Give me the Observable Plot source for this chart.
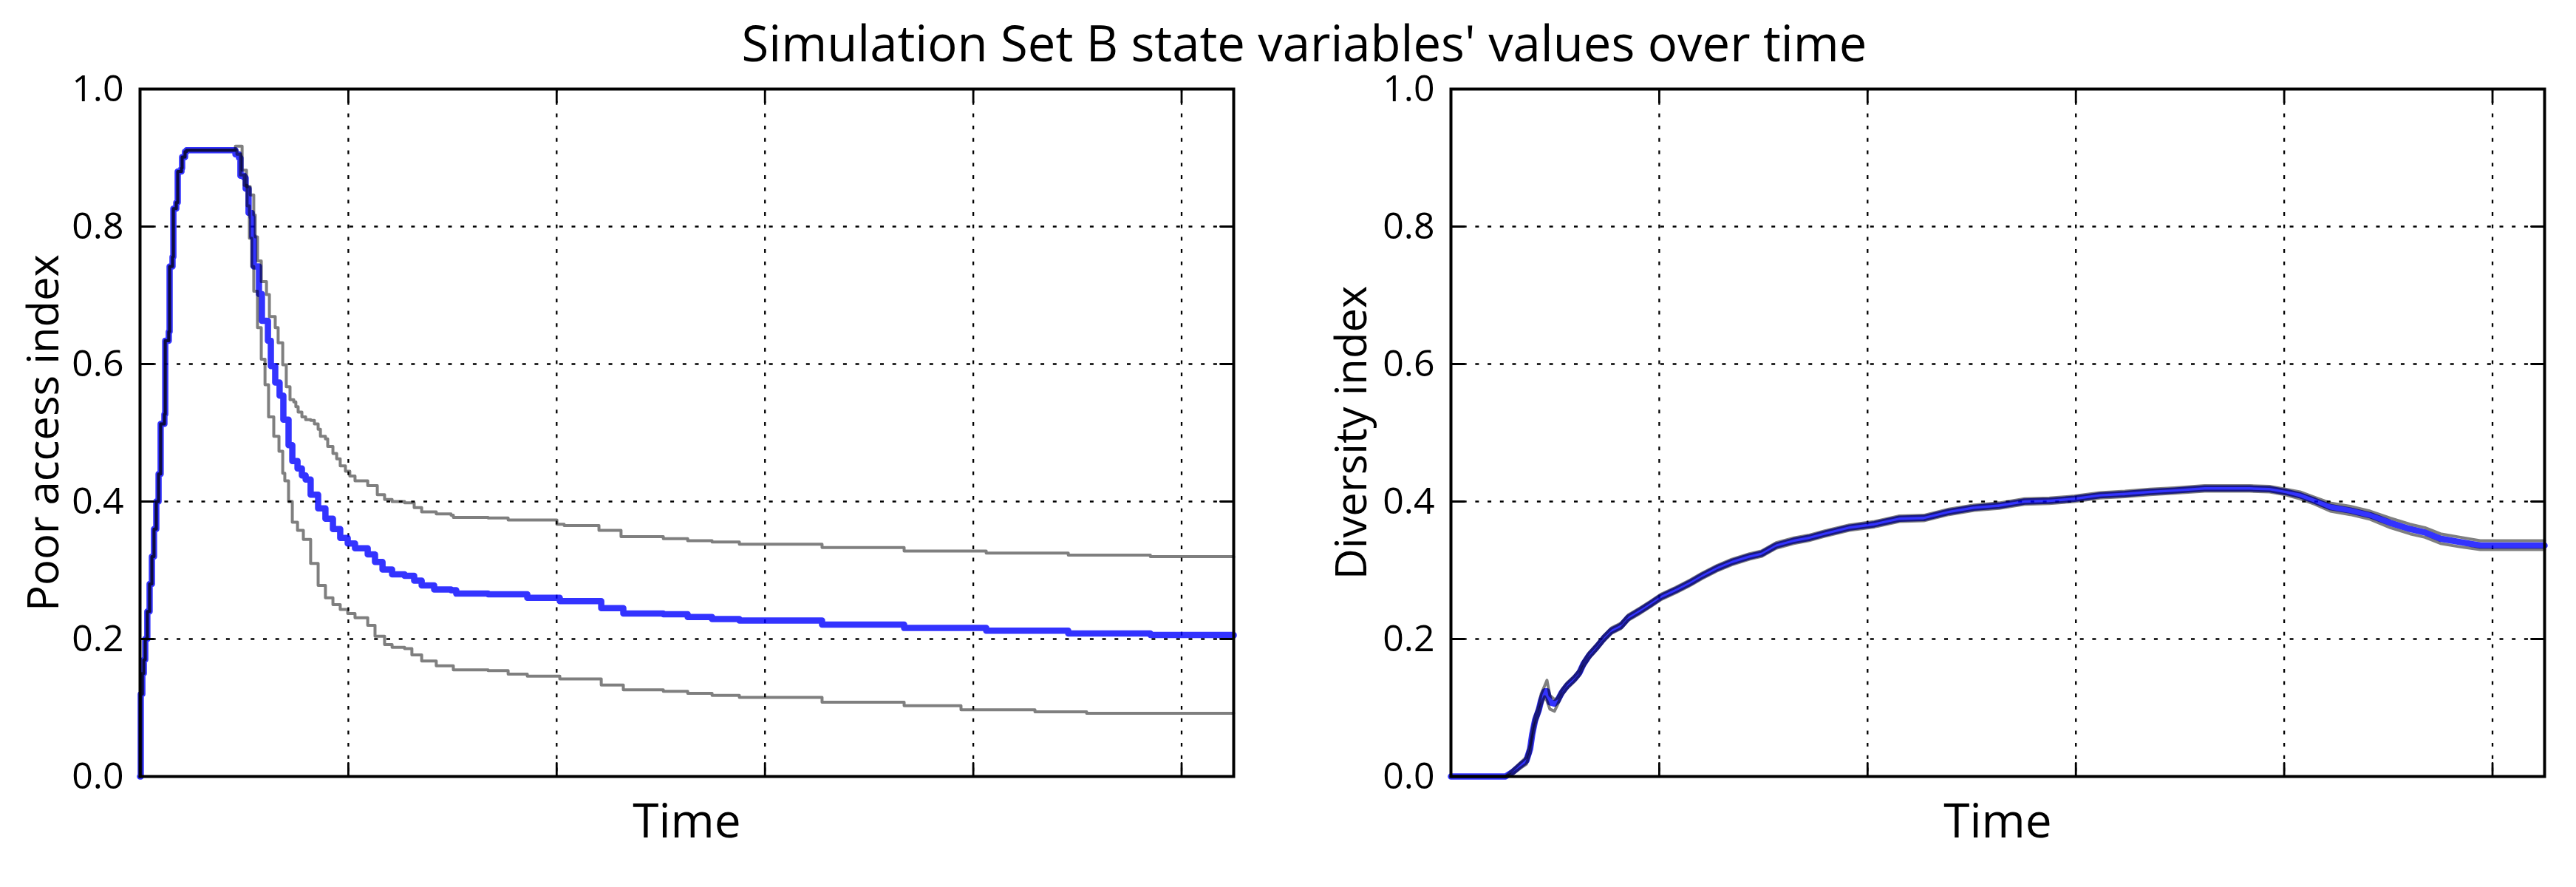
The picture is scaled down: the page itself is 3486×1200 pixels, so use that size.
<!DOCTYPE html>
<html>
<head>
<meta charset="utf-8">
<script src="https://cdn.jsdelivr.net/npm/d3@7"></script>
<script src="https://cdn.jsdelivr.net/npm/@observablehq/plot@0.6"></script>
<style>
  body { margin: 0; background: #fff; }
  #fig { width: 3486px; height: 1200px; font-family: "Open Sans", sans-serif; color: #000; }
  #title { height: 90px; box-sizing: border-box; padding-top: 29px; font-size: 67px; line-height: 56px;
           text-align: center; position: relative; left: 22px; white-space: nowrap; }
  #panels { display: flex; }
</style>
</head>
<body>
<div id="fig">
  <div id="title">Simulation Set B state variables' values over time</div>
  <div id="panels"></div>
</div>
<script>
// Axis ticks (time has no labelled ticks, only grid positions)
const xTicks = [1000, 2000, 3000, 4000, 5000];
const yTicks = [0, 0.2, 0.4, 0.6, 0.8, 1.0];
const yTickLabels = ["0.0", "0.2", "0.4", "0.6", "0.8", "1.0"];
const xLabel = "Time";
const leftLabel = "Poor access index";
const rightLabel = "Diversity index";

// Poor access index: the three series coincide during the initial rise
const poorRiseTime = [0,3.5,11,18,25,35,46,57,67,78,89,99,117,121,138,142,156,160,174,181,199,202,216,223,440];
const poorRise = [0,0.12,0.15,0.17,0.2,0.24,0.28,0.32,0.36,0.4,0.44,0.513,0.527,0.634,0.647,0.742,0.756,0.826,0.835,0.88,0.885,0.901,0.909,0.911,0.911];

// Poor access index: mean after the plateau
const poorMeanTime = [458,475,482,500,507,521,536,539,546,571,585,614,628,649,670,688,713,731,756,777,795,819,855,890,926,
  961,997,1032,1093,1128,1164,1210,1270,1316,1352,1412,1493,1518,1671,1859,2015,2214,2320,2512,2629,2746,2877,3274,3668,4062,4456,4850,5250];
const poorMean = [0.905,0.9,0.874,0.871,0.855,0.82,0.814,0.785,0.742,0.702,0.663,0.634,0.597,0.573,0.554,0.519,0.482,0.459,0.448,0.438,0.432,0.41,0.39,0.375,0.36,
  0.347,0.339,0.332,0.323,0.312,0.301,0.294,0.292,0.285,0.278,0.272,0.271,0.266,0.265,0.26,0.255,0.245,0.237,0.236,0.232,0.229,0.227,0.221,0.216,0.212,0.208,0.206,0.205];

// Poor access index: upper band
const poorUpperTime = [458,490,511,529,546,553,564,582,607,621,649,663,685,702,720,738,748,759,777,795,819,837,855,866,890,901,926,944,961,986,
  1007,1032,1093,1139,1174,1210,1270,1316,1352,1422,1493,1504,1671,1767,2001,2036,2203,2309,2512,2629,2746,2877,3274,3668,4062,4456,4850,5250];
const poorUpper = [0.917,0.882,0.858,0.846,0.817,0.785,0.75,0.72,0.701,0.669,0.653,0.631,0.599,0.567,0.548,0.545,0.538,0.53,0.523,0.519,0.518,0.513,0.505,0.495,0.491,0.48,0.47,0.462,0.452,0.444,
  0.437,0.43,0.423,0.41,0.403,0.4,0.398,0.391,0.385,0.382,0.38,0.377,0.376,0.373,0.367,0.365,0.358,0.349,0.346,0.343,0.341,0.338,0.333,0.328,0.325,0.322,0.32,0.319];

// Poor access index: lower band
const poorLowerTime = [465,482,500,514,525,536,546,564,582,600,617,642,667,685,695,713,731,756,784,819,855,890,926,961,997,1032,1093,1128,1174,1210,
  1270,1305,1352,1422,1504,1671,1767,1859,2015,2214,2320,2512,2629,2746,2877,3274,3668,3941,4296,4544,5250];
const poorLower = [0.905,0.875,0.86,0.83,0.783,0.742,0.706,0.653,0.607,0.57,0.523,0.495,0.473,0.441,0.43,0.40,0.37,0.358,0.345,0.31,0.278,0.26,0.25,0.243,0.237,0.231,0.22,0.204,0.192,0.188,
  0.186,0.177,0.168,0.161,0.155,0.154,0.149,0.146,0.142,0.133,0.126,0.124,0.121,0.118,0.115,0.108,0.103,0.097,0.094,0.092,0.092];

// Diversity index: sample times shared by mean and band
const divTime = [0,262,298,333,362,380,390,404,422,433,450,461,475,497,511,532,557,592,617,635,663,699,734,770,816,851,912,958,1007,1078,
  1149,1206,1277,1348,1433,1490,1561,1646,1717,1791,1912,2033,2153,2270,2391,2512,2632,2753,2873,2994,3115,3235,3356,3473,3618,3714,3835,3930,4005,4076,
  4147,4221,4317,4413,4509,4604,4676,4750,4846,4941,5037,5250];
const divMean = [0,0,0.007,0.016,0.023,0.04,0.061,0.082,0.097,0.111,0.124,0.124,0.108,0.106,0.11,0.122,0.132,0.142,0.151,0.163,
  0.176,0.188,0.201,0.212,0.219,0.231,0.242,0.251,0.261,0.271,0.282,0.292,0.303,0.312,0.32,0.324,0.336,0.343,0.347,0.353,
  0.362,0.367,0.375,0.376,0.385,0.391,0.394,0.4,0.401,0.404,0.409,0.411,0.414,0.416,0.419,0.419,0.419,0.418,0.414,0.409,
  0.401,0.392,0.387,0.38,0.369,0.36,0.355,0.346,0.341,0.336,0.336,0.336];
const divUpper = [0,0,0.01,0.02,0.028,0.046,0.067,0.088,0.103,0.12,0.132,0.14,0.118,0.112,0.114,0.126,0.136,0.146,0.155,0.167,
  0.18,0.192,0.205,0.216,0.223,0.235,0.246,0.255,0.265,0.275,0.286,0.296,0.307,0.316,0.324,0.328,0.34,0.347,0.351,0.357,
  0.366,0.371,0.379,0.38,0.389,0.395,0.398,0.404,0.405,0.408,0.413,0.415,0.418,0.42,0.423,0.423,0.423,0.422,0.418,0.414,
  0.406,0.398,0.393,0.386,0.376,0.367,0.362,0.353,0.348,0.343,0.343,0.343];
const divLower = [0,0,0.004,0.012,0.018,0.034,0.055,0.076,0.091,0.104,0.116,0.11,0.098,0.095,0.104,0.118,0.128,0.138,0.147,0.159,
  0.172,0.184,0.197,0.208,0.215,0.227,0.238,0.247,0.257,0.267,0.278,0.288,0.299,0.308,0.316,0.32,0.332,0.339,0.343,0.349,
  0.358,0.363,0.371,0.372,0.381,0.387,0.39,0.396,0.397,0.4,0.405,0.407,0.41,0.412,0.415,0.415,0.415,0.414,0.41,0.404,
  0.396,0.386,0.381,0.374,0.362,0.353,0.348,0.339,0.334,0.33,0.33,0.33];

const rows = (ts, vs) => ts.map((t, i) => ({t, v: vs[i]}));

// A straight inward tick, drawn by the vector mark
const tickShape = {draw(context, l) { context.moveTo(0, 0); context.lineTo(0, -l); }};
const tickStyle = {shape: tickShape, length: 18, anchor: "start", stroke: "black", strokeWidth: 2.8};
const gridStyle = {stroke: "black", strokeOpacity: 1, strokeWidth: 2.3, strokeDasharray: "5,11.7"};

function panel({width, marginLeft, marginRight, yLabel, yLabelDx, mean, upper, lower, curve}) {
  return Plot.plot({
    width, height: 1110,
    marginTop: 30, marginBottom: 150, marginLeft, marginRight,
    style: {fontFamily: "'Open Sans', sans-serif", fontSize: "50px", color: "black", background: "white", overflow: "visible"},
    x: {domain: [0, 5250], axis: null},
    y: {domain: [0, 1]},
    marks: [
      Plot.gridX(xTicks, gridStyle),
      Plot.gridY(yTicks.filter(d => d > 0 && d < 1), gridStyle),
      Plot.line(mean, {x: "t", y: "v", curve, stroke: "blue", strokeOpacity: 0.8, strokeWidth: 8.5, strokeLinejoin: "round"}),
      Plot.line(upper, {x: "t", y: "v", curve, stroke: "black", strokeOpacity: 0.5, strokeWidth: 4, strokeLinejoin: "round"}),
      Plot.line(lower, {x: "t", y: "v", curve, stroke: "black", strokeOpacity: 0.5, strokeWidth: 4, strokeLinejoin: "round"}),
      Plot.frame({stroke: "black", strokeWidth: 4}),
      Plot.vector(xTicks, {x: d => d, frameAnchor: "bottom", rotate: 0, ...tickStyle}),
      Plot.vector(xTicks, {x: d => d, frameAnchor: "top", rotate: 180, ...tickStyle}),
      Plot.vector(yTicks, {y: d => d, frameAnchor: "left", rotate: 90, ...tickStyle}),
      Plot.vector(yTicks, {y: d => d, frameAnchor: "right", rotate: -90, ...tickStyle}),
      Plot.axisY(yTicks, {tickSize: 0, tickPadding: 22, fontSize: 50, label: null,
        tickFormat: d => yTickLabels[yTicks.indexOf(d)]}),
      Plot.text([yLabel], {text: d => d, frameAnchor: "left", textAnchor: "middle", lineAnchor: "middle",
        dx: yLabelDx, rotate: -90, fontSize: 58}),
      Plot.text([xLabel], {text: d => d, frameAnchor: "bottom", textAnchor: "middle", lineAnchor: "middle",
        dy: 62, fontSize: 64})
    ]
  });
}

const panels = document.getElementById("panels");
panels.append(panel({
  width: 1743, marginLeft: 189, marginRight: 74,
  yLabel: leftLabel, yLabelDx: -129, curve: "step-after",
  mean: rows([...poorRiseTime, ...poorMeanTime], [...poorRise, ...poorMean]),
  upper: rows([...poorRiseTime, ...poorUpperTime], [...poorRise, ...poorUpper]),
  lower: rows([...poorRiseTime, ...poorLowerTime], [...poorRise, ...poorLower])
}));
panels.append(panel({
  width: 1743, marginLeft: 220, marginRight: 43,
  yLabel: rightLabel, yLabelDx: -133, curve: "linear",
  mean: rows(divTime, divMean),
  upper: rows(divTime, divUpper),
  lower: rows(divTime, divLower)
}));
</script>
</body>
</html>
